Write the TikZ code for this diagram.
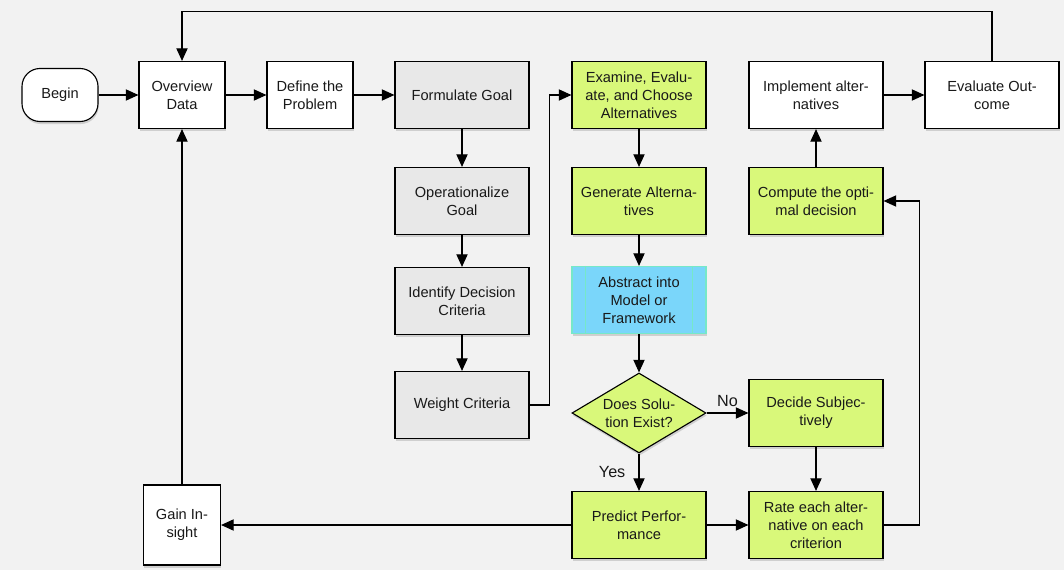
\documentclass[tikz,border=0pt]{standalone}
\usepackage{fontspec}
\setmainfont{Liberation Sans}
\usetikzlibrary{arrows.meta,shapes.geometric,shadows}
\definecolor{bg}{RGB}{242,242,242}
\definecolor{leaf}{RGB}{217,248,122}
\definecolor{goalgray}{RGB}{232,232,232}
\definecolor{sky}{RGB}{122,214,250}
\definecolor{skyline}{RGB}{118,232,200}

\begin{document}
\begin{tikzpicture}[x=0.025cm,y=-0.025cm,
  box/.style={draw,line width=0.8pt,fill=white,align=center,text=black!90,
    font=\fontsize{10.4}{12.8}\selectfont,inner sep=2pt,
    drop shadow={shadow xshift=0.5pt,shadow yshift=-1.8pt,opacity=0.3}},
  small/.style={box,minimum width=2.15cm,minimum height=1.675cm},
  wide/.style={box,minimum width=3.35cm,minimum height=1.675cm},
  goal/.style={wide,fill=goalgray},
  alt/.style={wide,fill=leaf},
  flow/.style={line width=0.8pt,-{Triangle[length=9pt,width=8pt]}},
  answer/.style={font=\fontsize{11.5}{13}\selectfont,text=black!90}]
\fill[bg] (0,0) rectangle (1064,570);
\node[box,rounded corners=0.45cm,minimum width=1.9cm,minimum height=1.325cm] (begin) at (60,95) {Begin};
\node[small] (overview) at (182,95) {Overview\\Data};
\node[small] (define) at (310,95) {Define the\\Problem};
\node[goal] (formulate) at (462,95) {Formulate Goal};
\node[goal] (operational) at (462,201) {Operationalize\\Goal};
\node[goal] (identify) at (462,301) {Identify Decision\\Criteria};
\node[goal] (weight) at (462,405) {Weight Criteria};
\node[alt] (examine) at (639,95) {Examine, Evalu-\\ate, and Choose\\Alternatives};
\node[alt] (generate) at (639,201) {Generate Alterna-\\tives};
\node[wide,fill=sky,draw=skyline] (abstract) at (639,300) {Abstract into\\Model or\\Framework};
\draw[skyline,line width=0.6pt] ([xshift=0.35cm]abstract.north west) -- ([xshift=0.35cm]abstract.south west);
\draw[skyline,line width=0.6pt] ([xshift=-0.35cm]abstract.north east) -- ([xshift=-0.35cm]abstract.south east);
\node[box,diamond,fill=leaf,aspect=1.675,minimum width=3.35cm,minimum height=2cm,inner sep=0pt] (exist) at (639,413) {Does Solu-\\tion Exist?};
\node[alt] (subjective) at (816,413) {Decide Subjec-\\tively};
\node[alt] (predict) at (639,525) {Predict Perfor-\\mance};
\node[alt] (rate) at (816,525) {Rate each alter-\\native on each\\criterion};
\node[box,minimum width=1.925cm,minimum height=2cm] (insight) at (182,525) {Gain In-\\sight};
\node[alt] (compute) at (816,201) {Compute the opti-\\mal decision};
\node[wide] (implement) at (816,95) {Implement alter-\\natives};
\node[wide] (outcome) at (992,95) {Evaluate Out-\\come};
\draw[flow] (begin) -- (overview);
\draw[flow] (overview) -- (define);
\draw[flow] (define) -- (formulate);
\draw[flow] (formulate) -- (operational);
\draw[flow] (operational) -- (identify);
\draw[flow] (identify) -- (weight);
\draw[flow] (weight.east) -- ++(20,0) |- (examine.west);
\draw[flow] (examine) -- (generate);
\draw[flow] (generate) -- (abstract);
\draw[flow] (abstract) -- (exist);
\draw[flow] (exist) -- node[answer,midway,above=1pt] {No} (subjective);
\draw[flow] (exist) -- node[answer,midway,left=6pt] {Yes} (predict);
\draw[flow] (subjective) -- (rate);
\draw[flow] (predict) -- (rate);
\draw[flow] (predict) -- (insight);
\draw[flow] (rate.east) -- ++(36,0) |- (compute.east);
\draw[flow] (compute) -- (implement);
\draw[flow] (implement) -- (outcome);
\draw[flow] (outcome.north) -- ++(0,-49) -| (overview.north);
\draw[flow] (insight) -- (overview);
\end{tikzpicture}
\end{document}
